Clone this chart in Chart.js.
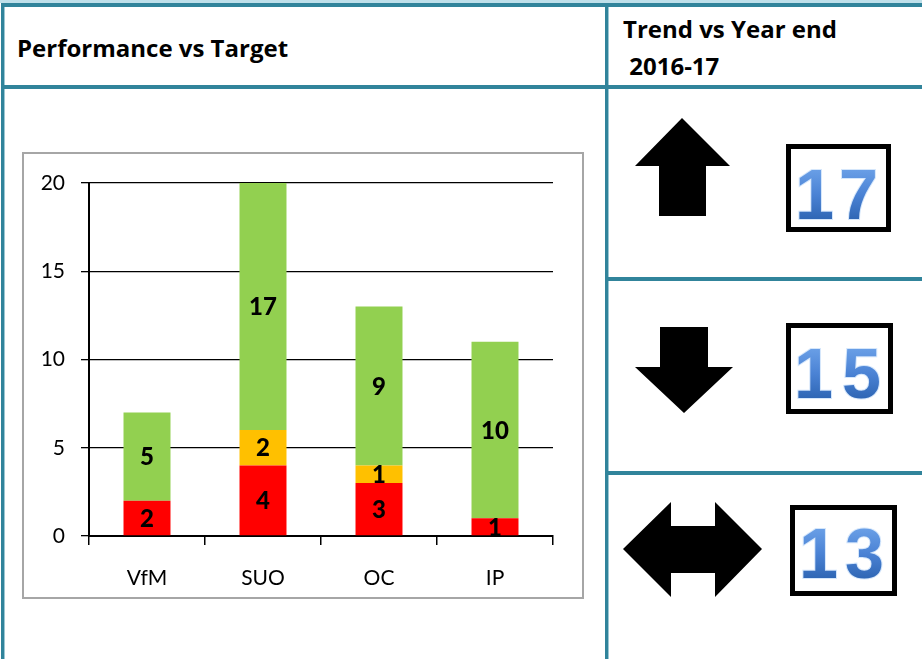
<!DOCTYPE html>
<html>
<head>
<meta charset="utf-8">
<script src="https://cdn.jsdelivr.net/npm/chart.js@4.4.1/dist/chart.umd.min.js"></script>
<style>
  html, body { margin: 0; padding: 0; background: #fff; }
  body { width: 922px; height: 659px; position: relative; overflow: hidden; font-family: Lato, "Open Sans", sans-serif; }
  .head { position: absolute; font-family: "Open Sans", Lato, sans-serif; font-weight: bold; font-size: 24px; line-height: 24px; color: #000; white-space: pre; }
  #chartBox { position: absolute; left: 22px; top: 152px; width: 558px; height: 443px; border: 2px solid #a6a6a6; background: #fff; }
  #chartBox canvas { position: absolute; left: 0; top: 0; }
  svg { position: absolute; left: 0; top: 0; }
</style>
</head>
<body>
<svg width="922" height="659" xmlns="http://www.w3.org/2000/svg">
  <defs>
    <linearGradient id="numGrad" x1="0" y1="0" x2="0" y2="1">
      <stop offset="0" stop-color="#7aaef0"/>
      <stop offset="0.5" stop-color="#4a82d4"/>
      <stop offset="1" stop-color="#1f56a2"/>
    </linearGradient>
  </defs>
  <!-- table lines -->
  <rect x="0" y="0" width="922" height="3" fill="#bfe0ea"/>
  <rect x="1" y="3" width="921" height="4" fill="#31849b"/>
  <rect x="1" y="3" width="3" height="656" fill="#31849b"/>
  <rect x="4" y="7" width="1" height="652" fill="#9cc8d4"/>
  <rect x="605" y="3" width="3" height="656" fill="#31849b"/>
  <rect x="608" y="7" width="1" height="652" fill="#9cc8d4"/>
  <rect x="1" y="85" width="921" height="4" fill="#31849b"/>
  <rect x="608" y="277" width="314" height="4" fill="#31849b"/>
  <rect x="608" y="471" width="314" height="4" fill="#31849b"/>

  <!-- arrows -->
  <polygon fill="#000" points="682,118 730,166 706,166 706,216 659,216 659,166 635,166"/>
  <polygon fill="#000" points="660,327 708,327 708,367 733,367 684,413 635,367 660,367"/>
  <polygon fill="#000" points="623,549 671,502 671,526 715,526 715,502 762,549 715,597 715,573 671,573 671,597"/>

  <!-- number boxes -->
  <rect x="788.5" y="146.5" width="100" height="83" fill="#fff" stroke="#000" stroke-width="5"/>
  <rect x="788.5" y="325.5" width="102" height="86" fill="#fff" stroke="#000" stroke-width="5"/>
  <rect x="792.5" y="507.5" width="102" height="86" fill="#fff" stroke="#000" stroke-width="5"/>
  <g font-family="'Liberation Sans', Arial, sans-serif" font-weight="bold" font-size="70" fill="url(#numGrad)" stroke="#d4e6fb" stroke-width="2" paint-order="stroke fill">
    <text x="795 839" y="219">17</text>
    <text x="794 842" y="398">15</text>
    <text x="799 845" y="578">13</text>
  </g>
</svg>

<div class="head" style="left:17px; top:36px;">Performance vs Target</div>
<div class="head" style="left:623px; top:17px;">Trend vs Year end</div>
<div class="head" style="left:623px; top:54px;"> 2016-17</div>

<div id="chartBox"><canvas id="perfChart" width="558" height="443"></canvas></div>

<script>
const categories = ["VfM", "SUO", "OC", "IP"];
const redValues = [2, 4, 3, 1];
const amberValues = [0, 2, 1, 0];
const greenValues = [5, 17, 9, 10];
const yTicks = [0, 5, 10, 15, 20];

// labels sit in the middle of the visible part of each segment
const segmentLabels = {
  id: "segmentLabels",
  afterDatasetsDraw(chart) {
    const { ctx, chartArea } = chart;
    ctx.save();
    ctx.font = "900 24px Lato, sans-serif";
    ctx.fillStyle = "#000";
    ctx.textAlign = "center";
    ctx.textBaseline = "middle";
    chart.data.datasets.forEach((ds, i) => {
      chart.getDatasetMeta(i).data.forEach((bar, j) => {
        const v = ds.data[j];
        if (!v) return;
        const top = Math.max(Math.min(bar.y, bar.base), chartArea.top);
        const bottom = Math.min(Math.max(bar.y, bar.base), chartArea.bottom);
        ctx.fillText(String(v), bar.x, (top + bottom) / 2 + 1);
      });
    });
    ctx.restore();
  },
};

const tickFont = { family: "Lato, sans-serif", size: 21 };

new Chart(document.getElementById("perfChart"), {
  type: "bar",
  data: {
    labels: categories,
    datasets: [
      { label: "Red", data: redValues, backgroundColor: "#ff0000" },
      { label: "Amber", data: amberValues, backgroundColor: "#ffc000" },
      { label: "Green", data: greenValues, backgroundColor: "#92d050" },
    ],
  },
  options: {
    responsive: false,
    animation: false,
    events: [],
    layout: { padding: { top: 29, right: 29, bottom: 0, left: 0 } },
    datasets: { bar: { categoryPercentage: 1, barPercentage: 0.405, borderWidth: 0 } },
    plugins: { legend: { display: false }, tooltip: { enabled: false } },
    scales: {
      x: {
        stacked: true,
        offset: true,
        grid: { display: true, offset: true, drawOnChartArea: false, drawTicks: true, tickLength: 9, color: "#000", lineWidth: 1.5 },
        border: { display: true, color: "#000", width: 2 },
        ticks: { color: "#000", font: tickFont, padding: 21 },
        afterFit(scale) { scale.height = 61; },
      },
      y: {
        stacked: true,
        min: 0,
        max: 20,
        afterBuildTicks(scale) { scale.ticks = yTicks.map((v) => ({ value: v })); },
        grid: { color: "#000", lineWidth: 1.3, drawTicks: true, tickLength: 8 },
        border: { display: true, color: "#000", width: 2 },
        ticks: { color: "#000", font: tickFont, padding: 16 },
        afterFit(scale) { scale.width = 65; },
      },
    },
  },
  plugins: [segmentLabels],
});
</script>
</body>
</html>
